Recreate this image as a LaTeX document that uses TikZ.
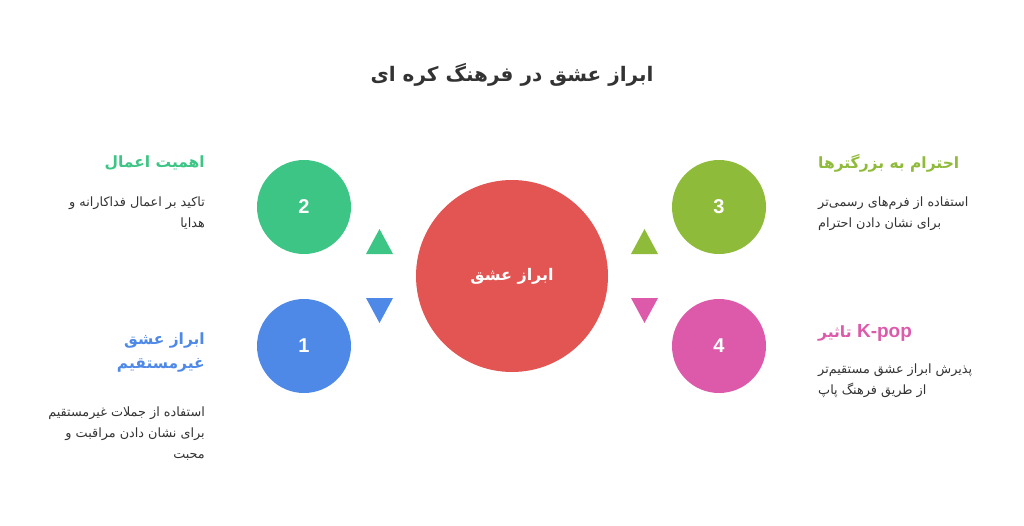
\documentclass[tikz,border=0pt]{standalone}
\usepackage{fontspec}
\setmainfont{Liberation Sans}
\newfontfamily\arabicfont[Script=Arabic]{DejaVu Sans}
\TeXXeTstate=1
\usetikzlibrary{positioning}
\definecolor{cred}{HTML}{E25552}
\definecolor{cgreen}{HTML}{3DC585}
\definecolor{cblue}{HTML}{4E89E8}
\definecolor{colive}{HTML}{8FBB3A}
\definecolor{cpink}{HTML}{DD5AAB}
\definecolor{ctext}{HTML}{333333}
\tikzset{
    hub/.style = {circle, fill=cred, minimum size=192pt, inner sep=0,
        text=white, font=\arabicfont\bfseries\fontsize{16}{20}\selectfont},
    num/.style = {circle, minimum size=94pt, inner sep=0,
        text=white, font=\bfseries\fontsize{20}{24}\selectfont},
    head/.style = {inner sep=0, font=\arabicfont\bfseries\fontsize{15.5}{24}\selectfont},
    desc/.style = {inner sep=0, text=ctext, font=\arabicfont\fontsize{12.8}{21}\selectfont}
}

\begin{document}
\begin{tikzpicture}[x=1pt,y=-1pt]
    \useasboundingbox (0,0) rectangle (1024,525);
    \node[inner sep=0,text=ctext,font=\arabicfont\bfseries\fontsize{20}{24}\selectfont] (title) at (512,75) {\beginR ابراز عشق در فرهنگ کره ای\endR};
    \node[hub] (hub) at (512,276) {\beginR ابراز عشق\endR};
    \node[num,fill=cgreen] (n2) at (304,207) {2};
    \node[num,fill=cblue] (n1) at (304,346) {1};
    \node[num,fill=colive] (n3) at (719,207) {3};
    \node[num,fill=cpink] (n4) at (719,346) {4};
    \fill[cgreen] (366,254) -- (379.5,229) -- (393,254) -- cycle;
    \fill[cblue] (366,298) -- (379.5,323) -- (393,298) -- cycle;
    \fill[colive] (631,254) -- (644.5,229) -- (658,254) -- cycle;
    \fill[cpink] (631,298) -- (644.5,323) -- (658,298) -- cycle;
    \node[head,text=cgreen,anchor=east] (h2) at (205,163) {\beginR اهمیت اعمال\endR};
    \node[desc,align=right,anchor=north east] (d2) at (205,197) {\beginR تاکید بر اعمال فداکارانه و\endR\\ \beginR هدایا\endR};
    \node[head,text=cblue,align=right,anchor=north east] (h1) at (205,333) {\beginR ابراز عشق\endR\\ \beginR غیرمستقیم\endR};
    \node[desc,align=right,anchor=north east] (d1) at (205,407) {\beginR استفاده از جملات غیرمستقیم\endR\\ \beginR برای نشان دادن مراقبت و\endR\\ \beginR محبت\endR};
    \node[head,text=colive,anchor=west] (h3) at (818,163) {\beginR احترام به بزرگترها\endR};
    \node[desc,align=left,anchor=north west] (d3) at (818,197) {\beginR استفاده از فرم‌های رسمی‌تر\endR\\ \beginR برای نشان دادن احترام\endR};
    \node[head,text=cpink,anchor=west] (h4) at (818,333) {\beginR تاثیر\endR{} {\rmfamily\fontsize{19}{24}\selectfont K-pop}};
    \node[desc,align=left,anchor=north west] (d4) at (818,364) {\beginR پذیرش ابراز عشق مستقیم‌تر\endR\\ \beginR از طریق فرهنگ پاپ\endR};
\end{tikzpicture}
\end{document}
